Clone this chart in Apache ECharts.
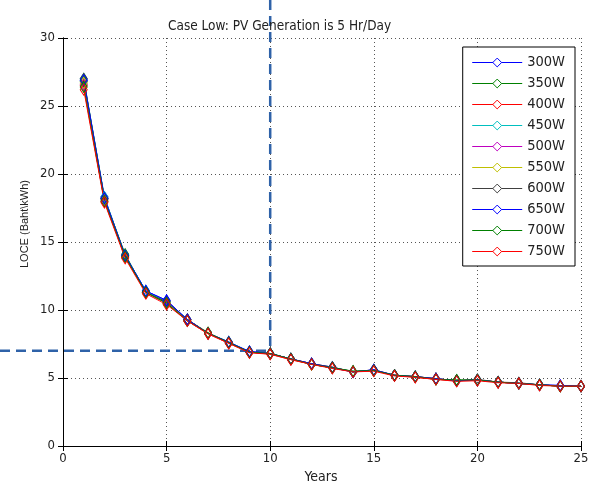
<!DOCTYPE html>
<html>
<head>
<meta charset="utf-8">
<script src="https://cdn.jsdelivr.net/npm/echarts@6/dist/echarts.min.js"></script>
<style>
html, body { margin: 0; padding: 0; background: #fff; }
#main { width: 597px; height: 484px; }
</style>
</head>
<body>
<div id="main"></div>
<script>
// years 1..25
var years = [1, 2, 3, 4, 5, 6, 7, 8, 9, 10, 11, 12, 13, 14, 15, 16, 17, 18, 19, 20, 21, 22, 23, 24, 25];
var names = ['300W', '350W', '400W', '450W', '500W', '550W', '600W', '650W', '700W', '750W'];
var colors = ['#0000ff', '#008000', '#ff0000', '#00bfbf', '#bf00bf', '#bfbf00', '#404040', '#0000ff', '#008000', '#ff0000'];

var loce300 = [26.9, 18.3, 14.0, 11.4, 10.7, 9.3, 8.3, 7.6, 6.95, 6.8, 6.4, 6.05, 5.8, 5.45, 5.6, 5.2, 5.1, 4.95, 4.8, 4.85, 4.7, 4.6, 4.5, 4.45, 4.4];
var loce350 = [26.8, 18.2, 14.1, 11.3, 10.6, 9.3, 8.3, 7.65, 6.9, 6.8, 6.4, 6.0, 5.75, 5.5, 5.55, 5.2, 5.1, 4.9, 4.85, 4.85, 4.7, 4.6, 4.5, 4.4, 4.4];
var loce400 = [26.5, 18.0, 13.9, 11.3, 10.5, 9.2, 8.25, 7.55, 6.9, 6.75, 6.35, 6.0, 5.75, 5.45, 5.55, 5.2, 5.05, 4.9, 4.8, 4.85, 4.7, 4.6, 4.5, 4.4, 4.4];
var loce450 = [27.0, 18.3, 14.0, 11.4, 10.6, 9.3, 8.3, 7.6, 6.9, 6.8, 6.4, 6.05, 5.75, 5.45, 5.55, 5.2, 5.1, 4.95, 4.8, 4.85, 4.7, 4.6, 4.5, 4.4, 4.4];
var loce500 = [26.6, 18.1, 13.9, 11.3, 10.5, 9.3, 8.3, 7.6, 6.9, 6.8, 6.4, 6.05, 5.75, 5.45, 5.55, 5.2, 5.1, 4.95, 4.8, 4.85, 4.7, 4.6, 4.5, 4.4, 4.4];
var loce550 = [26.7, 18.1, 13.9, 11.3, 10.5, 9.3, 8.35, 7.6, 6.9, 6.8, 6.4, 6.0, 5.75, 5.45, 5.55, 5.2, 5.1, 4.95, 4.8, 4.85, 4.7, 4.6, 4.5, 4.4, 4.4];
var loce600 = [27.0, 18.2, 14.0, 11.3, 10.6, 9.3, 8.3, 7.6, 6.9, 6.8, 6.4, 6.05, 5.8, 5.45, 5.6, 5.2, 5.1, 4.95, 4.8, 4.9, 4.7, 4.65, 4.5, 4.4, 4.4];
var loce650 = [26.9, 18.2, 14.0, 11.4, 10.7, 9.3, 8.3, 7.65, 6.95, 6.8, 6.4, 6.05, 5.75, 5.45, 5.6, 5.2, 5.1, 4.95, 4.8, 4.85, 4.7, 4.6, 4.5, 4.45, 4.4];
var loce700 = [26.4, 18.0, 13.9, 11.3, 10.5, 9.2, 8.3, 7.6, 6.9, 6.8, 6.4, 6.0, 5.75, 5.5, 5.55, 5.2, 5.1, 4.9, 4.85, 4.85, 4.7, 4.6, 4.5, 4.4, 4.4];
var loce750 = [26.2, 17.9, 13.8, 11.2, 10.4, 9.2, 8.25, 7.55, 6.85, 6.75, 6.35, 6.0, 5.7, 5.45, 5.5, 5.15, 5.05, 4.9, 4.75, 4.8, 4.65, 4.6, 4.45, 4.4, 4.4];
var allLoce = [loce300, loce350, loce400, loce450, loce500, loce550, loce600, loce650, loce700, loce750];

// guide point marked with the dashed lines
var guidePoint = [10, 7];

var xTicks = ['0', '5', '10', '15', '20', '25'];
var yTicks = ['0', '5', '10', '15', '20', '25', '30'];

var myChart = echarts.init(document.getElementById('main'));
var font = 'DejaVu Sans Condensed, DejaVu Sans, sans-serif';
var font2 = 'Liberation Sans, Arial, sans-serif';

var series = [];
for (var i = 0; i < names.length; i++) {
  var pts = [];
  for (var j = 0; j < years.length; j++) {
    pts.push([years[j], allLoce[i][j]]);
  }
  series.push({
    name: names[i],
    type: 'line',
    data: pts,
    symbol: 'diamond',
    symbolSize: [7, 11],
    showSymbol: true,
    lineStyle: { color: colors[i], width: 1 },
    itemStyle: { color: 'rgba(255,255,255,0)', borderColor: colors[i], borderWidth: 1 },
    emphasis: { disabled: true },
    animation: false
  });
}

var axisCommon = {
  type: 'value',
  axisLine: { show: true, lineStyle: { color: '#000', width: 1 } },
  axisTick: { show: true, inside: true, length: 5, lineStyle: { color: '#000' } }
};

var option = {
  animation: false,
  title: {
    text: 'Case Low: PV Generation is 5 Hr/Day',
    left: 163,
    top: 14,
    textStyle: { fontFamily: font, fontSize: 13.5, fontWeight: 'normal', color: '#222' }
  },
  grid: { left: 63, right: 16, top: 38, bottom: 38 },
  legend: {
    data: names,
    orient: 'vertical',
    right: 22,
    top: 47,
    padding: [8, 10, 7, 9],
    itemWidth: 50,
    itemHeight: 11,
    itemGap: 6,
    backgroundColor: '#fff',
    borderColor: '#000',
    borderWidth: 1,
    borderRadius: 0,
    lineStyle: { width: 1 },
    itemStyle: { color: '#fff', borderWidth: 1 },
    textStyle: { fontFamily: font, fontSize: 14.5, color: '#222' }
  },
  xAxis: [
    Object.assign({}, axisCommon, {
      min: 0, max: 25, interval: 5,
      position: 'bottom',
      axisLabel: {
        fontFamily: font, fontSize: 13, color: '#222', margin: 6,
        formatter: function (v) { return xTicks[v / 5]; }
      },
      splitLine: { show: true, lineStyle: { color: '#555', type: [1, 3], width: 1 } }
    }),
    Object.assign({}, axisCommon, {
      min: 0, max: 25, interval: 5,
      position: 'top',
      axisLabel: { show: false },
      splitLine: { show: false }
    })
  ],
  yAxis: [
    Object.assign({}, axisCommon, {
      min: 0, max: 30, interval: 5,
      position: 'left',
      axisLabel: {
        fontFamily: font, fontSize: 13, color: '#222', margin: 8,
        formatter: function (v) { return yTicks[v / 5]; }
      },
      splitLine: { show: true, lineStyle: { color: '#555', type: [1, 3], width: 1 } }
    }),
    Object.assign({}, axisCommon, {
      min: 0, max: 30, interval: 5,
      position: 'right',
      axisLabel: { show: false },
      splitLine: { show: false }
    })
  ],
  series: series
};

myChart.setOption(option);

// dashed guide lines and axis titles, placed through the chart's own scale
var p = myChart.convertToPixel({ gridIndex: 0 }, guidePoint);
var dash = { stroke: '#2f62a8', lineWidth: 2.5, lineDash: [10, 6] };
myChart.setOption({
  graphic: [
    { type: 'line', z: 1, shape: { x1: 0, y1: p[1], x2: p[0], y2: p[1] }, style: dash },
    { type: 'line', z: 1, shape: { x1: p[0], y1: 0, x2: p[0], y2: p[1] }, style: dash },
    {
      type: 'text', x: 25, y: 224, rotation: Math.PI / 2,
      style: { text: 'LOCE (Baht\\kWh)', fontFamily: font2, fontSize: 11, fill: '#222', align: 'center', verticalAlign: 'middle' }
    },
    {
      type: 'text', x: 321, y: 477,
      style: { text: 'Years', fontFamily: font, fontSize: 14, fill: '#222', align: 'center', verticalAlign: 'middle' }
    }
  ]
});

window.addEventListener('resize', function () {
  myChart.resize();
});
</script>
</body>
</html>
